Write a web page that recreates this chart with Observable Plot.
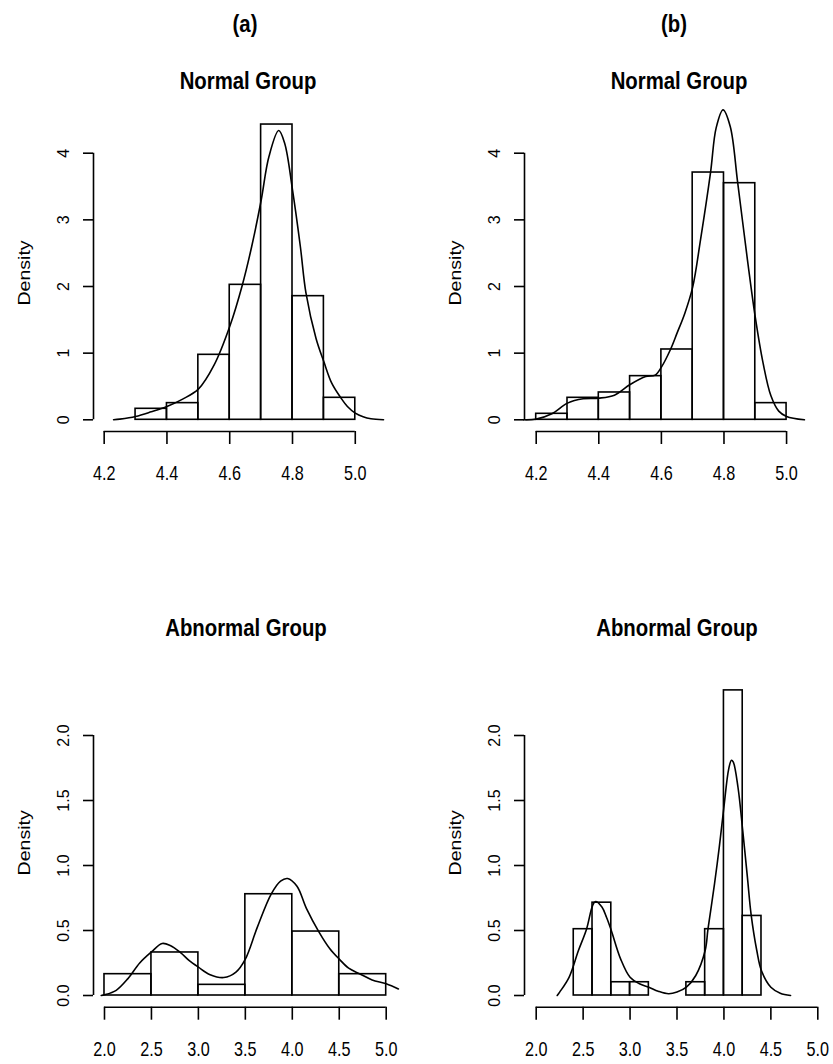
<!DOCTYPE html>
<html><head><meta charset="utf-8">
<script src="https://cdn.jsdelivr.net/npm/d3@7"></script>
<script src="https://cdn.jsdelivr.net/npm/@observablehq/plot@0.6"></script>
<style>
html,body{margin:0;padding:0;background:#fff;}
#page{position:relative;width:833px;height:1064px;overflow:hidden;background:#fff;}
.ttl{position:absolute;width:400px;text-align:center;font-family:'Liberation Sans',Arial,Helvetica,sans-serif;font-weight:bold;font-size:24.5px;line-height:1;color:#000;white-space:nowrap;transform:scaleX(0.83);transform-origin:50% 50%;}
.panel{position:absolute;}
</style></head><body><div id="page"></div>
<script>
// ---------------- data ----------------
const panelLetters = ["(a)", "(b)"];
const groupTitles = ["Normal Group", "Abnormal Group"];
const yLabel = "Density";

const normalTicksX = [4.2, 4.4, 4.6, 4.8, 5.0];
const normalTicksY = [0, 1, 2, 3, 4];
const abnormalTicksX = [2.0, 2.5, 3.0, 3.5, 4.0, 4.5, 5.0];
const abnormalTicksY = [0, 0.5, 1.0, 1.5, 2.0];

// (a) Normal group
const normalA_breaks = [4.3, 4.4, 4.5, 4.6, 4.7, 4.8, 4.9, 5.0];
const normalA_density = [0.165, 0.25, 0.975, 2.025, 4.43, 1.855, 0.33];
const normalA_kdeX = [4.23, 4.25, 4.3, 4.35, 4.4, 4.45, 4.5, 4.55, 4.6, 4.64, 4.67, 4.7, 4.725, 4.756, 4.775, 4.8, 4.825, 4.843, 4.875, 4.9, 4.925, 4.954, 4.975, 5.0, 5.025, 5.05, 5.09];
const normalA_kdeY = [0, 0.01, 0.05, 0.12, 0.2, 0.31, 0.46, 0.82, 1.4, 2.02, 2.6, 3.29, 3.95, 4.34, 4.15, 3.45, 2.6, 1.9, 1.22, 0.87, 0.55, 0.33, 0.2, 0.1, 0.045, 0.015, 0];

// (b) Normal group
const normalB_breaks = [4.2, 4.3, 4.4, 4.5, 4.6, 4.7, 4.8, 4.9, 5.0];
const normalB_density = [0.09, 0.33, 0.41, 0.655, 1.055, 3.71, 3.55, 0.25];
const normalB_kdeX = [4.16, 4.2, 4.25, 4.3, 4.35, 4.4, 4.45, 4.5, 4.55, 4.58, 4.6, 4.629, 4.65, 4.675, 4.7, 4.725, 4.757, 4.775, 4.797, 4.82, 4.844, 4.875, 4.9, 4.925, 4.95, 4.975, 5.0, 5.057];
const normalB_kdeY = [0, 0.01, 0.09, 0.25, 0.315, 0.325, 0.37, 0.53, 0.65, 0.67, 0.79, 1.055, 1.3, 1.6, 1.99, 2.7, 3.71, 4.38, 4.65, 4.4, 3.55, 2.4, 1.54, 0.85, 0.36, 0.13, 0.05, 0];

// (a) Abnormal group
const abnormalA_breaks = [2.0, 2.5, 3.0, 3.5, 4.0, 4.5, 5.0];
const abnormalA_density = [0.164, 0.331, 0.082, 0.779, 0.492, 0.164];
const abnormalA_kdeX = [1.965, 2.0, 2.125, 2.25, 2.375, 2.5, 2.614, 2.7, 2.81, 2.9, 3.0, 3.125, 3.27, 3.4, 3.5, 3.625, 3.775, 3.875, 3.95, 4.05, 4.15, 4.283, 4.4, 4.5, 4.6, 4.726, 4.85, 5.0, 5.13];
const abnormalA_kdeY = [0, 0.005, 0.04, 0.13, 0.25, 0.335, 0.4, 0.385, 0.33, 0.27, 0.218, 0.16, 0.138, 0.18, 0.28, 0.52, 0.78, 0.88, 0.9, 0.84, 0.67, 0.49, 0.36, 0.28, 0.21, 0.164, 0.12, 0.09, 0.05];

// (b) Abnormal group
const abnormalB_breaks = [2.4, 2.6, 2.8, 3.0, 3.2, 3.4, 3.6, 3.8, 4.0, 4.2, 4.4];
const abnormalB_density = [0.51, 0.714, 0.102, 0.102, 0, 0, 0.102, 0.51, 2.347, 0.612];
const abnormalB_kdeX = [2.224, 2.25, 2.35, 2.45, 2.536, 2.6, 2.632, 2.7, 2.75, 2.8, 2.9, 3.0, 3.1, 3.2, 3.3, 3.41, 3.5, 3.6, 3.7, 3.8, 3.83, 3.9, 3.95, 4.0, 4.05, 4.08, 4.1, 4.15, 4.2, 4.25, 4.29, 4.35, 4.4, 4.5, 4.6, 4.71];
const abnormalB_kdeY = [0, 0.026, 0.14, 0.346, 0.51, 0.69, 0.723, 0.68, 0.6, 0.5, 0.28, 0.14, 0.09, 0.064, 0.033, 0.013, 0.026, 0.064, 0.154, 0.346, 0.51, 0.86, 1.14, 1.45, 1.74, 1.81, 1.795, 1.6, 1.27, 0.91, 0.62, 0.346, 0.19, 0.064, 0.018, 0];

// ---------------- drawing ----------------
const LW = 1.6;
const regular = "'Liberation Sans',Arial,Helvetica,sans-serif";
const page = document.getElementById("page");

function panel(cfg) {
  const bars = cfg.density.map((d, i) => ({x1: cfg.breaks[i], x2: cfg.breaks[i + 1], y: d}));
  const kde = cfg.kdeX.map((x, i) => ({x, y: cfg.kdeY[i]}));
  const tx = cfg.ticksX, ty = cfg.ticksY;
  return Plot.plot({
    width: cfg.width, height: cfg.height,
    marginLeft: cfg.marginLeft, marginRight: cfg.marginRight,
    marginTop: cfg.marginTop, marginBottom: cfg.marginBottom,
    x: {domain: cfg.xDomain},
    y: {domain: cfg.yDomain},
    style: {background: "transparent", overflow: "visible", color: "#000", fontFamily: regular, fontSize: "16px"},
    marks: [
      Plot.rect(bars, {x1: "x1", x2: "x2", y1: 0, y2: "y", fill: "none", stroke: "#000", strokeWidth: LW}),
      Plot.line(kde, {x: "x", y: "y", stroke: "#000", strokeWidth: LW, curve: "catmull-rom"}),
      Plot.ruleX([cfg.xDomain[0]], {y1: ty[0], y2: ty[ty.length - 1], stroke: "#000", strokeWidth: LW}),
      Plot.ruleY([cfg.yDomain[0]], {x1: tx[0], x2: tx[tx.length - 1], stroke: "#000", strokeWidth: LW}),
      Plot.axisX({ticks: tx, tickSize: 13, tickPadding: 21, tickFormat: d3.format(".1f"), fontSize: 21, fontFamily: regular, strokeWidth: LW, label: null}),
      Plot.axisY({ticks: ty, tickSize: 10, tickPadding: 14.3, tickRotate: -90, tickFormat: cfg.fmtY, fontSize: 16, fontFamily: regular, strokeWidth: LW, label: null}),
      Plot.text([yLabel], {text: d => d, frameAnchor: "left", textAnchor: "middle", lineAnchor: "middle", rotate: -90, dx: -69, dy: cfg.labelDy, fontSize: 17, fontFamily: regular})
    ]
  });
}

function squeeze(nodes, k) {
  nodes.forEach(t => {
    const w = t.getComputedTextLength();
    if (w > 0) {
      t.setAttribute("textLength", (w * k).toFixed(2));
      t.setAttribute("lengthAdjust", "spacingAndGlyphs");
    }
  });
}

function place(svg, left, top) {
  const wrap = document.createElement("div");
  wrap.className = "panel";
  wrap.style.left = left + "px";
  wrap.style.top = top + "px";
  wrap.appendChild(svg);
  page.appendChild(wrap);
  // the reference's horizontal labels are condensed, its rotated label is elongated
  squeeze(svg.querySelectorAll('g[aria-label="x-axis tick label"] text'), 0.77);
  squeeze(svg.querySelectorAll('g[aria-label="text"] text'), 1.15);
}

function title(text, cx, top) {
  const d = document.createElement("div");
  d.className = "ttl";
  d.textContent = text;
  d.style.left = (cx - 200) + "px";
  d.style.top = top + "px";
  page.appendChild(d);
}

const topCommon = {height: 390, marginTop: 10, marginBottom: 59, yDomain: [-0.1755, 4.6407], ticksX: normalTicksX, ticksY: normalTicksY, fmtY: d3.format("d"), labelDy: 2};
const botCommon = {height: 404, marginTop: 10, marginBottom: 57.3, yDomain: [-0.09, 2.5], ticksX: abnormalTicksX, ticksY: abnormalTicksY, fmtY: d3.format(".1f"), labelDy: 4};

place(panel({...topCommon, width: 416, marginLeft: 93, marginRight: 11, xDomain: [4.166, 5.16],
  breaks: normalA_breaks, density: normalA_density, kdeX: normalA_kdeX, kdeY: normalA_kdeY}), 0, 100);
place(panel({...topCommon, width: 417, marginLeft: 108, marginRight: 10, xDomain: [4.1626, 5.118],
  breaks: normalB_breaks, density: normalB_density, kdeX: normalB_kdeX, kdeY: normalB_kdeY}), 416, 100);
place(panel({...botCommon, width: 416, marginLeft: 93, marginRight: 11, xDomain: [1.883, 5.2055],
  breaks: abnormalA_breaks, density: abnormalA_density, kdeX: abnormalA_kdeX, kdeY: abnormalA_kdeY}), 0, 660);
place(panel({...botCommon, width: 417, marginLeft: 108, marginRight: 8, xDomain: [1.8754, 5.082],
  breaks: abnormalB_breaks, density: abnormalB_density, kdeX: abnormalB_kdeX, kdeY: abnormalB_kdeY}), 416, 660);

title(panelLetters[0], 245, 12);
title(panelLetters[1], 673.5, 12);
title(groupTitles[0], 247.5, 68.6);
title(groupTitles[0], 679, 68.6);
title(groupTitles[1], 245.5, 616);
title(groupTitles[1], 676.5, 616);
</script></body></html>
